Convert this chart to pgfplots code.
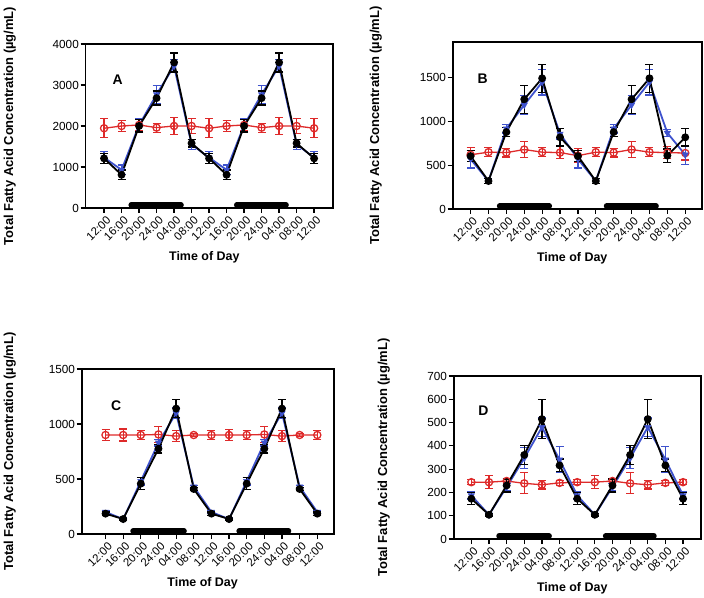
\documentclass[border=0pt]{standalone}
\usepackage{pgfplots}
\pgfplotsset{compat=1.18}
\usepackage{fontspec}
\setmainfont{Liberation Sans}
\definecolor{rred}{RGB}{222,42,42}
\definecolor{bblue}{RGB}{62,82,205}
\pgfplotsset{
 panel/.style={
  scale only axis, clip=false,
  xmin=-1, xmax=13,
  xtick={0,...,12},
  xticklabels={12:00,16:00,20:00,24:00,04:00,08:00,12:00,16:00,20:00,24:00,04:00,08:00,12:00},
  xticklabel style={rotate=45, anchor=east, font=\fontsize{11.5}{11.5}\selectfont, inner sep=0.5pt, yshift=-7bp},
  yticklabel style={font=\fontsize{11.8}{11.8}\selectfont, inner sep=1.5pt},
  /pgf/number format/assume math mode=true,
  /pgf/number format/1000 sep={},
  tick pos=left, tick align=outside, major tick length=5bp,
  tick style={black, line width=1.2bp},
  axis line style={line width=1.8bp},
  xlabel={Time of Day},
  ylabel={Total Fatty Acid Concentration (\textmu g/mL)},
  xlabel style={font=\bfseries\fontsize{12.5}{12.5}\selectfont, at={(axis description cs:0.48,0)}, anchor=north, yshift=-43bp, inner sep=0pt},
  ylabel style={font=\bfseries\fontsize{13}{13}\selectfont, at={(axis description cs:0,0.5)}, anchor=south, inner sep=0pt},
 },
 redser/.style={color=rred, line width=1.3bp, mark=o, mark size=3.6bp, mark options={line width=1.3bp, fill=white},
   error bars/.cd, y dir=both, y explicit,
   error bar style={line width=1.2bp, rred},
   error mark options={rotate=90, mark size=4bp, line width=1.2bp, rred}},
 blueser/.style={color=bblue, line width=1.8bp, mark=triangle*, mark size=3.6bp, mark options={rotate=180, line width=0.5bp},
   error bars/.cd, y dir=both, y explicit,
   error bar style={line width=1.3bp, bblue},
   error mark options={rotate=90, mark size=4bp, line width=1.3bp, bblue}},
 blackser/.style={color=black, line width=1.8bp, mark=*, mark size=3bp,
   error bars/.cd, y dir=both, y explicit,
   error bar style={line width=1.3bp, black},
   error mark options={rotate=90, mark size=4bp, line width=1.3bp, black}},
 night/.style={black, line width=5.5bp, line cap=round, mark=none},
}
\begin{document}
\begin{tikzpicture}
\path (0,0) rectangle (704bp,598bp);
% ---------------- A ----------------
\begin{axis}[panel, at={(85.5bp,390bp)}, anchor=south west, width=247.5bp, height=164bp,
  xmin=-1.06, xmax=13.08, ymin=0, ymax=4000, ytick={0,1000,2000,3000,4000},
  ylabel style={yshift=69.5bp}]
\addplot[night] coordinates {(1.55,75) (4.4,75)};
\addplot[night] coordinates {(7.58,75) (10.4,75)};
\addplot[redser] coordinates {(0,1945)+-(0,230) (1,2000)+-(0,130) (2,2025)+-(0,140) (3,1960)+-(0,110) (4,2000)+-(0,200) (5,2000)+-(0,190) (6,1945)+-(0,230) (7,2000)+-(0,130) (8,2025)+-(0,140) (9,1960)+-(0,110) (10,2000)+-(0,200) (11,2000)+-(0,190) (12,1945)+-(0,230)};
\addplot[blueser] coordinates {(0,1230)+-(0,150) (1,930)+-(0,120) (2,2020)+-(0,170) (3,2770)+-(0,220) (4,3460)+-(0,160) (5,1550)+-(0,120) (6,1230)+-(0,150) (7,930)+-(0,120) (8,2020)+-(0,170) (9,2770)+-(0,220) (10,3460)+-(0,160) (11,1550)+-(0,120) (12,1230)+-(0,150)};
\addplot[blackser] coordinates {(0,1210)+-(0,120) (1,810)+-(0,115) (2,2000)+-(0,150) (3,2680)+-(0,170) (4,3550)+-(0,230) (5,1580)+-(0,90) (6,1210)+-(0,120) (7,810)+-(0,115) (8,2000)+-(0,150) (9,2680)+-(0,170) (10,3550)+-(0,230) (11,1580)+-(0,90) (12,1210)+-(0,120)};
\node[font=\bfseries\fontsize{14}{14}\selectfont] at (axis description cs:0.13,0.78) {A};
\end{axis}
% ---------------- B ----------------
\begin{axis}[panel, at={(452.7bp,389bp)}, anchor=south west, width=249bp, height=167bp,
  xmax=12.92, ymin=0, ymax=1910, ytick={0,500,1000,1500},
  ylabel style={yshift=70.7bp}]
\addplot[night] coordinates {(1.62,34) (4.4,34)};
\addplot[night] coordinates {(7.6,34) (10.37,34)};
\addplot[redser] coordinates {(0,620)+-(0,80) (1,650)+-(0,50) (2,645)+-(0,50) (3,680)+-(0,90) (4,650)+-(0,50) (5,645)+-(0,70) (6,610)+-(0,80) (7,650)+-(0,50) (8,645)+-(0,50) (9,680)+-(0,90) (10,650)+-(0,50) (11,645)+-(0,70) (12,640)+-(0,80)};
\addplot[blueser] coordinates {(0,570)+-(0,100) (1,320)+-(0,30) (2,920)+-(0,50) (3,1190)+-(0,110) (4,1450)+-(0,145) (5,860)+-(0,60) (6,570)+-(0,100) (7,320)+-(0,30) (8,920)+-(0,50) (9,1190)+-(0,110) (10,1450)+-(0,145) (11,870)+-(0,40) (12,620)+-(0,110)};
\addplot[blackser] coordinates {(0,605)+-(0,60) (1,320)+-(0,30) (2,880)+-(0,50) (3,1255)+-(0,160) (4,1495)+-(0,160) (5,820)+-(0,100) (6,605)+-(0,60) (7,320)+-(0,30) (8,880)+-(0,50) (9,1255)+-(0,160) (10,1495)+-(0,160) (11,610)+-(0,75) (12,820)+-(0,100)};
\node[font=\bfseries\fontsize{14}{14}\selectfont] at (axis description cs:0.12,0.78) {B};
\end{axis}
% ---------------- C ----------------
\begin{axis}[panel, at={(81.7bp,64bp)}, anchor=south west, width=252bp, height=165bp,
  xmin=-1.35, xmax=12.93, ymin=0, ymax=1500, ytick={0,500,1000,1500},
  ylabel style={yshift=65.7bp}]
\addplot[night] coordinates {(1.56,27) (4.45,27)};
\addplot[night] coordinates {(7.57,27) (10.37,27)};
\addplot[redser] coordinates {(0,900)+-(0,50) (1,900)+-(0,55) (2,900)+-(0,40) (3,905)+-(0,75) (4,890)+-(0,50) (5,900)+-(0,15) (6,900)+-(0,40) (7,900)+-(0,50) (8,900)+-(0,40) (9,905)+-(0,75) (10,890)+-(0,50) (11,900)+-(0,15) (12,900)+-(0,40)};
\addplot[blueser] coordinates {(0,200)+-(0,10) (1,135)+-(0,10) (2,480)+-(0,35) (3,830)+-(0,30) (4,1100)+-(0,50) (5,430)+-(0,10) (6,200)+-(0,10) (7,135)+-(0,10) (8,480)+-(0,35) (9,830)+-(0,30) (10,1100)+-(0,50) (11,430)+-(0,10) (12,200)+-(0,10)};
\addplot[blackser] coordinates {(0,185)+-(0,15) (1,136)+-(0,10) (2,458)+-(0,55) (3,776)+-(0,40) (4,1140)+-(0,80) (5,409)+-(0,15) (6,185)+-(0,15) (7,136)+-(0,10) (8,458)+-(0,55) (9,776)+-(0,40) (10,1140)+-(0,80) (11,409)+-(0,15) (12,185)+-(0,15)};
\node[font=\bfseries\fontsize{14}{14}\selectfont] at (axis description cs:0.137,0.78) {C};
\end{axis}
% ---------------- D ----------------
\begin{axis}[panel, at={(453.7bp,59bp)}, anchor=south west, width=247bp, height=163bp,
  ymin=0, ymax=700, ytick={0,100,200,300,400,500,600,700},
  ylabel style={yshift=63.7bp}]
\addplot[night] coordinates {(1.57,13) (4.41,13)};
\addplot[night] coordinates {(7.61,13) (10.35,13)};
\addplot[redser] coordinates {(0,244)+-(0,10) (1,244)+-(0,28) (2,249)+-(0,12) (3,239)+-(0,45) (4,233)+-(0,18) (5,241)+-(0,10) (6,244)+-(0,10) (7,244)+-(0,28) (8,249)+-(0,12) (9,239)+-(0,45) (10,233)+-(0,18) (11,241)+-(0,10) (12,244)+-(0,10)};
\addplot[blueser] coordinates {(0,187)+-(0,15) (1,104)+-(0,5) (2,223)+-(0,15) (3,347)+-(0,45) (4,480)+-(0,40) (5,341)+-(0,55) (6,187)+-(0,15) (7,104)+-(0,5) (8,223)+-(0,15) (9,347)+-(0,45) (10,480)+-(0,40) (11,341)+-(0,55) (12,187)+-(0,15)};
\addplot[blackser] coordinates {(0,173)+-(0,26) (1,104)+-(0,5) (2,230)+-(0,28) (3,361)+-(0,40) (4,515)+-(0,84) (5,316)+-(0,27) (6,173)+-(0,26) (7,104)+-(0,5) (8,230)+-(0,28) (9,361)+-(0,40) (10,515)+-(0,84) (11,316)+-(0,27) (12,173)+-(0,26)};
\node[font=\bfseries\fontsize{14}{14}\selectfont] at (axis description cs:0.12,0.79) {D};
\end{axis}
\end{tikzpicture}
\end{document}
